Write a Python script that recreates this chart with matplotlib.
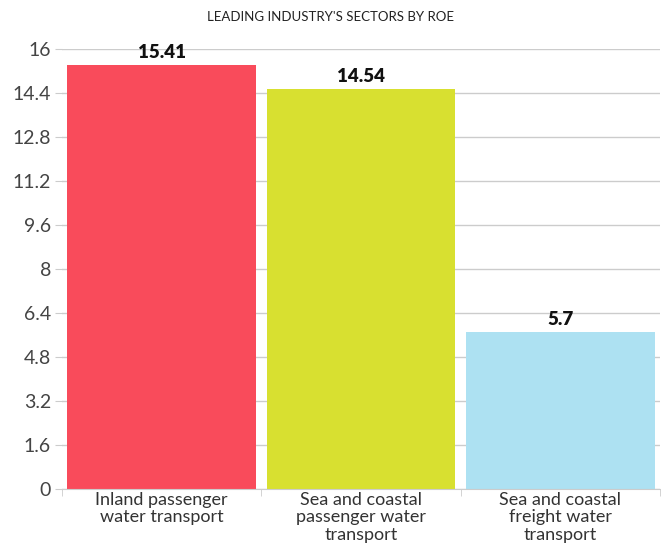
import numpy as np
import matplotlib
matplotlib.use('Agg')
import matplotlib.pyplot as plt

# data
categories = ['Inland passenger\nwater transport',
              'Sea and coastal\npassenger water\ntransport',
              'Sea and coastal\nfreight water\ntransport']
roe = [15.41, 14.54, 5.7]
value_labels = ['15.41', '14.54', '5.7']
colors = ['#F94B5B', '#D8E030', '#ADE1F2']
yticks = [0, 1.6, 3.2, 4.8, 6.4, 8, 9.6, 11.2, 12.8, 14.4, 16]
ytick_labels = ['0', '1.6', '3.2', '4.8', '6.4', '8', '9.6', '11.2', '12.8', '14.4', '16']

plt.rcParams['font.family'] = ['Lato', 'DejaVu Sans']

fig = plt.figure(figsize=(6.61, 5.44), dpi=100)
ax = fig.add_axes([62 / 661, 1 - 489 / 544, 598 / 661, 440 / 544])

x = np.arange(len(categories))
ax.bar(x, roe, width=0.945, color=colors, zorder=2)
for xi, v, lab in zip(x, roe, value_labels):
    ax.text(xi, v + 0.15, lab, ha='center', va='bottom', fontsize=13.5,
            fontweight='heavy', color='#111111', zorder=3)

ax.set_xlim(-0.5, 2.5)
ax.set_ylim(0, 16)
ax.set_yticks(yticks)
ax.set_yticklabels(ytick_labels, fontsize=14, color='#444444')
ax.yaxis.grid(True, color='#cccccc', linewidth=1, zorder=0)

ax.set_xticks(x)
ax.set_xticklabels(categories, fontsize=13, color='#333333', linespacing=1.12)
ax.tick_params(axis='x', length=0, pad=2)
ax.set_xticks([-0.5, 0.5, 1.5, 2.5], minor=True)
ax.tick_params(axis='x', which='minor', length=5, color='#cccccc')
ax.tick_params(axis='y', length=5, color='#cccccc', pad=3)

for s in ['top', 'right', 'left']:
    ax.spines[s].set_visible(False)
ax.spines['bottom'].set_color('#cccccc')

fig.text(0.5, 1 - 17 / 544, "LEADING INDUSTRY'S SECTORS BY ROE", ha='center',
         va='center', fontsize=9.5, color='#222222')

fig.savefig('out.png', dpi=100)
